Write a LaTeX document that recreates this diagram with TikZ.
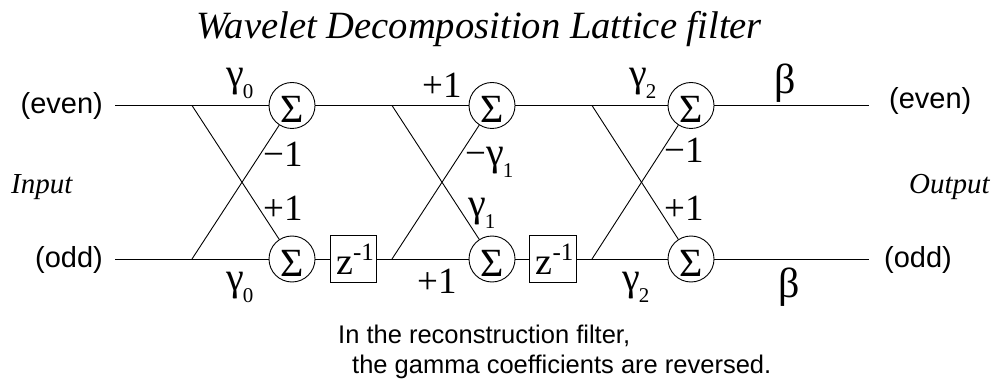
\documentclass[tikz,border=0pt]{standalone}
\usepackage{fontspec}
\setmainfont{Liberation Serif}
\newfontfamily\arialf{Liberation Sans}
\newcommand{\fs}[1]{\fontsize{#1}{#1}\selectfont}
\newcommand{\gam}[1]{\fontsize{40}{40}\selectfont γ\raisebox{-12pt}{\hspace{-1pt}\fs{21}#1}}
\tikzset{
  x=1pt,y=-1pt,
  sumnode/.style={circle,draw,line width=0.9pt,minimum size=46pt,inner sep=0pt,font=\fs{40},text height=34pt,text depth=0pt},
  delaybox/.style={rectangle,draw,line width=0.9pt,minimum size=46.5pt,inner sep=0pt,font=\fs{38}},
  wire/.style={line width=0.9pt},
  lab/.style={anchor=base west,inner sep=0pt,font=\fs{37}},
  betalab/.style={anchor=base west,inner sep=0pt,font=\fs{42}},
  sanslab/.style={inner sep=0pt,font=\arialf\fs{29}},
  note/.style={anchor=base west,inner sep=0pt,font=\arialf\fs{25.5}},
  ital/.style={anchor=base west,inner sep=0pt,font=\itshape\fs{29}},
}
\newcommand{\zinv}{\hspace{3pt}z\raisebox{14pt}{\fs{25}-1}}
\begin{document}
\begin{tikzpicture}
\useasboundingbox (0,0) rectangle (992,379);
\node[anchor=base west,inner sep=0pt,font=\itshape\fs{38.6}] (title) at (196,39) {Wavelet Decomposition Lattice filter};
% sum nodes
\node[sumnode] (s1) at (292,105.5) {Σ};
\node[sumnode] (s2) at (292,259) {Σ};
\node[sumnode] (s3) at (492,105.5) {Σ};
\node[sumnode] (s4) at (492,259) {Σ};
\node[sumnode] (s5) at (691,105.5) {Σ};
\node[sumnode] (s6) at (691,259) {Σ};
\node[delaybox] (z1) at (353.5,259) {\zinv};
\node[delaybox] (z2) at (553,259) {\zinv};
% free ends and junctions
\coordinate (ie) at (115,105.5);
\coordinate (io) at (115,259);
\coordinate (oe) at (869,105.5);
\coordinate (oo) at (869,259);
\coordinate (a1) at (192,105.5);
\coordinate (a2) at (192,259);
\coordinate (b1) at (392,105.5);
\coordinate (b2) at (392,259);
\coordinate (c1) at (592,105.5);
\coordinate (c2) at (592,259);
% wires
\draw[wire] (ie) -- (s1);
\draw[wire] (io) -- (s2);
\draw[wire] (s1) -- (s3);
\draw[wire] (s3) -- (s5);
\draw[wire] (s5) -- (oe);
\draw[wire] (s2) -- (z1);
\draw[wire] (z1) -- (s4);
\draw[wire] (s4) -- (z2);
\draw[wire] (z2) -- (s6);
\draw[wire] (s6) -- (oo);
\draw[wire] (a1) -- (s2);
\draw[wire] (a2) -- (s1);
\draw[wire] (b1) -- (s4);
\draw[wire] (b2) -- (s3);
\draw[wire] (c1) -- (s6);
\draw[wire] (c2) -- (s5);
% labels
\node[lab] (g0t) at (226,87) {\gam{0}};
\node[lab] (g0b) at (226,290) {\gam{0}};
\node[lab] (p1t) at (422,98) {+1};
\node[lab] (p1b) at (417,293) {+1};
\node[lab] (g2t) at (629,87) {\gam{2}};
\node[lab] (g2b) at (622,290) {\gam{2}};
\node[betalab] (bt) at (774,94) {β};
\node[betalab] (bb) at (778,297) {β};
\node[lab] (m1a) at (263,167) {−1};
\node[lab] (p1a) at (263,221) {+1};
\node[lab] (mg1) at (465,166) {−\gam{1}};
\node[lab] (g1) at (468,217) {\gam{1}};
\node[lab] (m1c) at (664,163) {−1};
\node[lab] (p1c) at (664,221) {+1};
\node[sanslab,anchor=base east] (ev1) at (103,114) {(even)};
\node[sanslab,anchor=base east] (od1) at (103,267) {(odd)};
\node[sanslab,anchor=base west] (ev2) at (889,109) {(even)};
\node[sanslab,anchor=base west] (od2) at (884,267) {(odd)};
\node[ital] (inp) at (11,194) {Input};
\node[ital] (outp) at (909,194) {Output};
\node[note] (n1) at (338,343) {In the reconstruction filter,};
\node[note] (n2) at (352,373) {the gamma coefficients are reversed.};
\end{tikzpicture}
\end{document}
